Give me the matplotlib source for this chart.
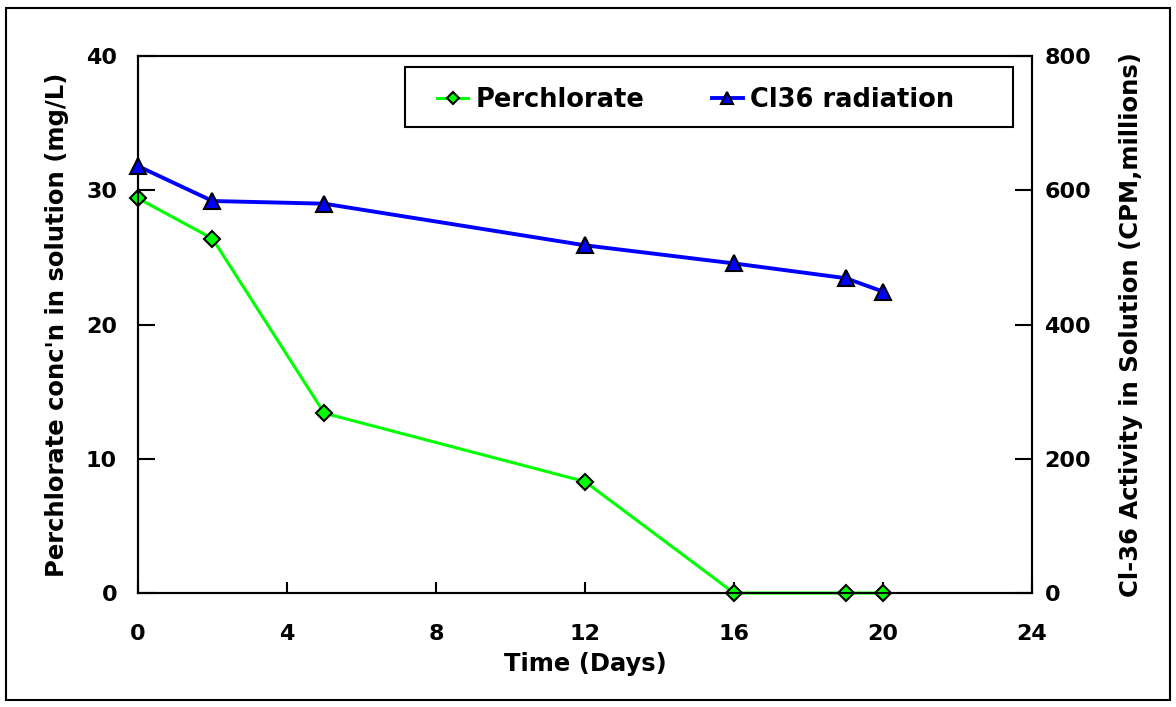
import matplotlib.pyplot as plt
from matplotlib.patches import Rectangle

days = [0, 2, 5, 12, 16, 19, 20]
perchlorate = [29.4, 26.4, 13.4, 8.3, 0, 0, 0]
cl36 = [636, 584, 580, 518, 491, 469, 449]

plt.rcParams['font.family'] = ['DejaVu Sans']
plt.rcParams['font.weight'] = 'bold'

fig = plt.figure(figsize=(11.76, 7.07), dpi=100)
ax = fig.add_axes([0.1173, 0.1612, 0.7603, 0.7596])
ax2 = ax.twinx()

l1, = ax.plot(days, perchlorate, color='#00ff00', lw=2.2, marker='D', ms=8,
              mfc='#00ff00', mec='black', mew=1.5, clip_on=False, zorder=3)
l2, = ax2.plot(days, cl36, color='#0000ff', lw=2.8, marker='^', ms=11,
               mfc='#0000ff', mec='black', mew=1.5, clip_on=False, zorder=3)

ax.set_xlim(0, 24)
ax.set_ylim(0, 40)
ax2.set_ylim(0, 800)
ax.set_xticks([0, 4, 8, 12, 16, 20, 24])
ax.set_yticks([0, 10, 20, 30, 40])
ax2.set_yticks([0, 200, 400, 600, 800])

for a in (ax, ax2):
    for s in a.spines.values():
        s.set_linewidth(1.5)
ax.tick_params(axis='y', direction='in', length=12, width=1.5, labelsize=16, pad=15)
ax.tick_params(axis='x', direction='in', length=8, width=1.5, labelsize=16, pad=22)
ax2.tick_params(axis='y', direction='in', length=12, width=1.5, labelsize=16, pad=9)

ax.set_xlabel('Time (Days)', fontsize=17.5, fontweight='bold', labelpad=6)
ax.set_ylabel("Perchlorate conc'n in solution (mg/L)", fontsize=17.5,
              fontweight='bold', labelpad=12)
ax2.set_ylabel('Cl-36 Activity in Solution (CPM,millions)', fontsize=17.5,
               fontweight='bold', labelpad=20)

# legend box drawn separately so its padding can match the original
ax2.add_patch(Rectangle((0.299, 0.868), 0.68, 0.1115, transform=ax.transAxes,
                        facecolor='white', edgecolor='black', linewidth=1.5,
                        zorder=4, clip_on=False))
leg = ax2.legend([l1, l2], ['Perchlorate', 'Cl36 radiation'], ncol=2,
                 loc='center left', bbox_to_anchor=(0.335, 0.9185),
                 fontsize=18.5, frameon=False, handlelength=1.2,
                 columnspacing=2.6, borderpad=0, handletextpad=0.3,
                 borderaxespad=0, markerscale=0.8)
leg.set_zorder(5)

fig.patches.append(Rectangle((0.005, 0.01), 0.99, 0.978, transform=fig.transFigure,
                             fill=False, edgecolor='black', linewidth=1.5))

fig.savefig('out.png', dpi=100)
